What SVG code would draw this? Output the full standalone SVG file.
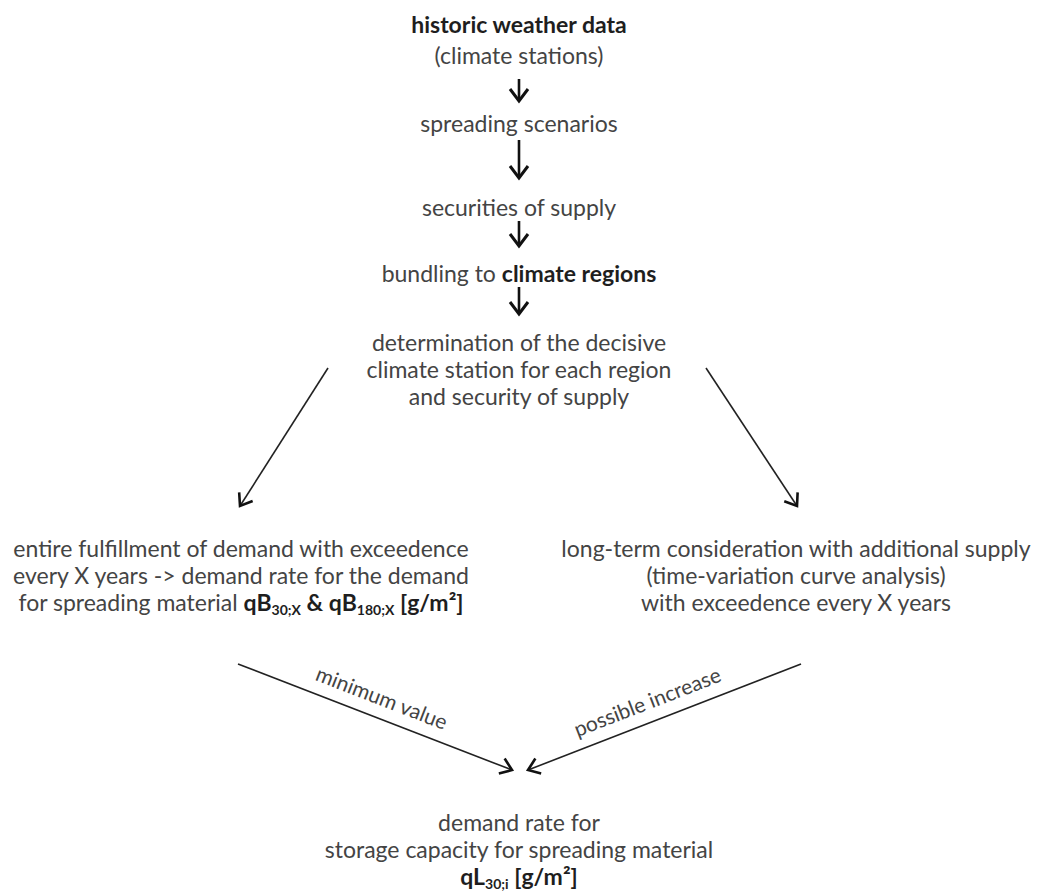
<svg xmlns="http://www.w3.org/2000/svg" width="1038" height="892" viewBox="0 0 1038 892">
<defs>
<marker id="ah" markerUnits="userSpaceOnUse" viewBox="-15 -12 18 24" markerWidth="18" markerHeight="24" refX="0" refY="0" orient="auto">
<path d="M-12,-9 L0,0 L-12,9" fill="none" stroke="#111" stroke-width="3" stroke-linejoin="miter"/>
</marker>
<marker id="ah2" markerUnits="userSpaceOnUse" viewBox="-15 -12 18 24" markerWidth="18" markerHeight="24" refX="0" refY="0" orient="auto">
<path d="M-11,-8 L0,0 L-11,8" fill="none" stroke="#111" stroke-width="2.6" stroke-linejoin="miter"/>
</marker>
<style>
text{font-family:Lato,"Noto Sans","Liberation Sans",sans-serif;font-size:23px;fill:#444;text-anchor:middle}
.b{font-weight:bold;fill:#1e1e1e}
.sub{font-size:14px}
.lbl{font-size:21px}
.v{stroke:#111;stroke-width:2.6;fill:none;marker-end:url(#ah)}
.d{stroke:#222;stroke-width:1.6;fill:none;marker-end:url(#ah2)}
</style>
</defs>
<rect width="1038" height="892" fill="#fff"/>
<g id="n1"><text x="519" y="33" class="b">historic weather data</text><text x="519" y="64">(climate stations)</text></g>
<g id="n2"><text x="519" y="132">spreading scenarios</text></g>
<g id="n3"><text x="519" y="216">securities of supply</text></g>
<g id="n4"><text x="519" y="282">bundling to <tspan class="b">climate regions</tspan></text></g>
<g id="n5"><text x="519" y="351">determination of the decisive</text><text x="519" y="378">climate station for each region</text><text x="519" y="405">and security of supply</text></g>
<g id="n6"><text x="241" y="557">entire fulfillment of demand with exceedence</text><text x="241" y="584">every X years -&gt; demand rate for the demand</text><text x="241" y="611">for spreading material <tspan class="b">qB<tspan class="sub" dy="4">30;X</tspan><tspan dy="-4"> &amp; qB</tspan><tspan class="sub" dy="4">180;X</tspan><tspan dy="-4"> [g/m²]</tspan></tspan></text></g>
<g id="n7"><text x="796" y="557">long-term consideration with additional supply</text><text x="796" y="584">(time-variation curve analysis)</text><text x="796" y="611">with exceedence every X years</text></g>
<g id="n8"><text x="519" y="831">demand rate for</text><text x="519" y="858">storage capacity for spreading material</text><text x="519" y="885"><tspan class="b">qL</tspan><tspan class="sub b" dy="4">30;i</tspan><tspan class="b" dy="-4"> [g/m²]</tspan></text></g>
<g id="connectors">
<line x1="519" y1="79" x2="519" y2="101" class="v"/>
<line x1="519" y1="140" x2="519" y2="178" class="v"/>
<line x1="519" y1="221" x2="519" y2="246" class="v"/>
<line x1="519" y1="287" x2="519" y2="314" class="v"/>
<line x1="328" y1="368" x2="240" y2="506" class="d"/>
<line x1="706" y1="368" x2="797" y2="506" class="d"/>
<line x1="238" y1="664" x2="512" y2="770" class="d"/>
<line x1="801" y1="664" x2="528" y2="770" class="d"/>
<text class="lbl" transform="translate(379,705) rotate(21.2)">minimum value</text>
<text class="lbl" transform="translate(650,709) rotate(-21.2)">possible increase</text>
</g>
</svg>
